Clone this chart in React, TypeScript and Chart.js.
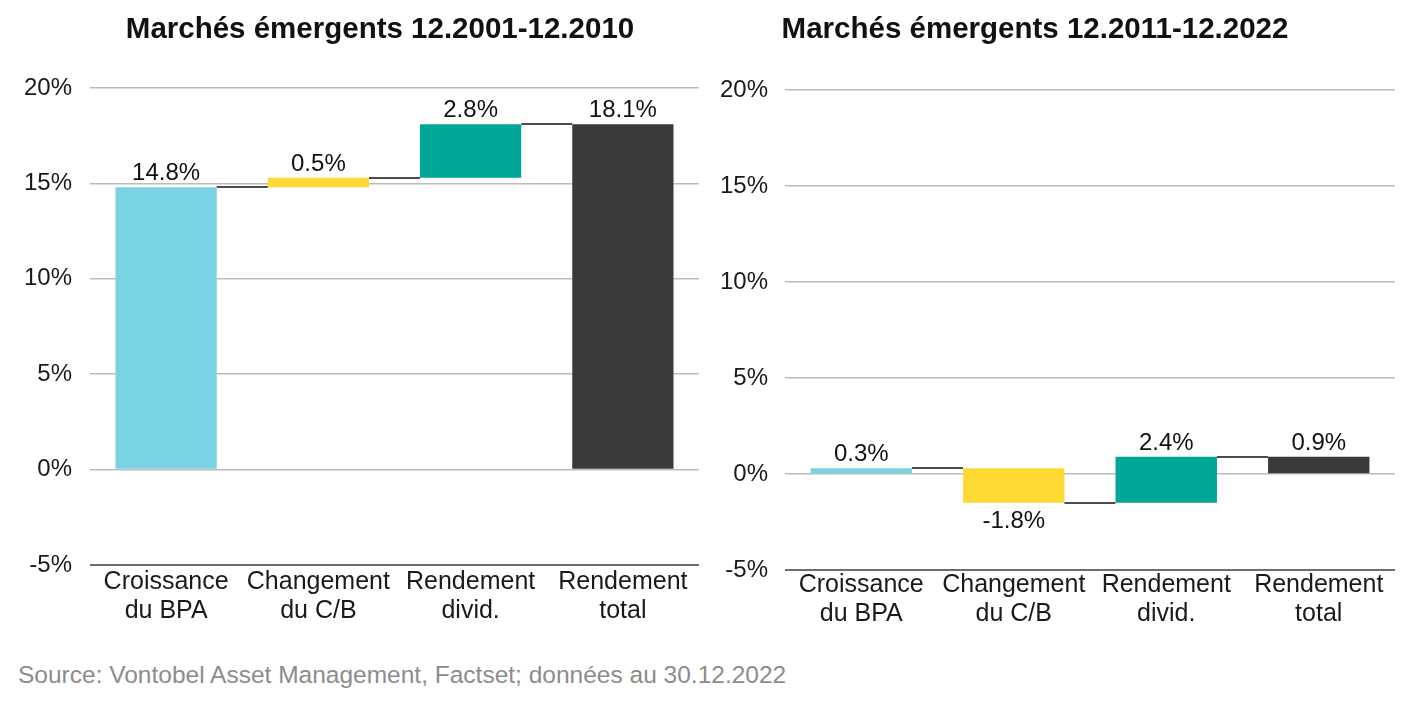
import React, { useEffect, useRef } from "react";
import { Chart, registerables } from "chart.js";

Chart.register(...registerables);

const categories: string[][] = [
  ["Croissance", "du BPA"],
  ["Changement", "du C/B"],
  ["Rendement", "divid."],
  ["Rendement", "total"],
];
const titleLeft = "Marchés émergents 12.2001-12.2010";
const titleRight = "Marchés émergents 12.2011-12.2022";
const valuesLeft = [14.8, 0.5, 2.8, 18.1];
const valuesRight = [0.3, -1.8, 2.4, 0.9];
const barColors = ["#7AD3E3", "#FCDA32", "#00A697", "#3A3A3B"];
const yMin = -5;
const yMax = 20;
const yStep = 5;
const sourceText = "Source: Vontobel Asset Management, Factset; données au 30.12.2022";

const FONT = "'Liberation Sans', Arial, Helvetica, sans-serif";

function floatingBars(values: number[]): number[][] {
  let cum = 0;
  return values.map((v, i) => {
    if (i === values.length - 1) return [0, v];
    const s = cum;
    cum += v;
    return [s, cum];
  });
}

type PanelProps = {
  values: number[];
  left: number;
  width: number;
  height: number;
  yWidth: number;
  tickPad: number;
  xPad: number;
  padTop: number;
  padRight: number;
  xHeight: number;
};

function Panel(p: PanelProps) {
  const ref = useRef<HTMLCanvasElement | null>(null);
  useEffect(() => {
    if (!ref.current) return;
    const bars = floatingBars(p.values);
    const waterfallPlugin = {
      id: "waterfallExtras",
      afterDatasetsDraw(chart: any) {
        const ctx = chart.ctx;
        const meta = chart.getDatasetMeta(0);
        const ys = chart.scales.y;
        ctx.save();
        ctx.strokeStyle = "#4d4d4d";
        ctx.lineWidth = 2;
        for (let i = 0; i < bars.length - 1; i++) {
          const a = meta.data[i];
          const b = meta.data[i + 1];
          const level = bars[i][1];
          const y = Math.round(ys.getPixelForValue(level));
          ctx.beginPath();
          ctx.moveTo(a.x + a.width / 2, y);
          ctx.lineTo(b.x - b.width / 2, y);
          ctx.stroke();
        }
        ctx.fillStyle = "#111111";
        ctx.font = `24px ${FONT}`;
        ctx.textAlign = "center";
        ctx.textBaseline = "alphabetic";
        for (let i = 0; i < bars.length; i++) {
          const el = meta.data[i];
          const v = p.values[i];
          const txt = v.toFixed(1) + "%";
          const [s, e] = bars[i];
          if (v >= 0) {
            const y = ys.getPixelForValue(Math.max(s, e));
            ctx.fillText(txt, el.x, y - 7);
          } else {
            const y = ys.getPixelForValue(Math.min(s, e));
            ctx.fillText(txt, el.x, y + 25);
          }
        }
        ctx.restore();
      },
    };
    const chart = new Chart(ref.current, {
      type: "bar",
      data: {
        labels: categories,
        datasets: [
          {
            data: bars as any,
            backgroundColor: barColors,
            borderWidth: 0,
            barPercentage: 0.665,
            categoryPercentage: 1,
          },
        ],
      },
      options: {
        animation: false,
        responsive: false,
        maintainAspectRatio: false,
        events: [],
        layout: { padding: { top: p.padTop, right: p.padRight, left: 0, bottom: 0 } },
        plugins: {
          legend: { display: false },
          title: { display: false },
          tooltip: { enabled: false },
        },
        scales: {
          x: {
            grid: { display: false, drawTicks: false },
            border: { display: false },
            ticks: {
              color: "#1a1a1a",
              font: { family: FONT, size: 25, lineHeight: 1.16 },
              padding: p.xPad,
              maxRotation: 0,
              autoSkip: false,
            },
            afterFit(scale: any) {
              scale.height = p.xHeight;
            },
          },
          y: {
            min: yMin,
            max: yMax,
            grid: {
              drawTicks: false,
              color: (c: any) => (c.tick && c.tick.value === yMin ? "#6e6e6e" : "#bdbdbd"),
              lineWidth: (c: any) => (c.tick && c.tick.value === yMin ? 2 : 1.5),
            },
            border: { display: false },
            ticks: {
              stepSize: yStep,
              color: "#1a1a1a",
              font: { family: FONT, size: 24 },
              padding: p.tickPad,
              callback: (v: any) => `${v}%`,
            },
            afterFit(scale: any) {
              scale.width = p.yWidth;
            },
          },
        },
      },
      plugins: [waterfallPlugin],
    });
    return () => chart.destroy();
  }, []);
  return (
    <canvas
      ref={ref}
      width={p.width}
      height={p.height}
      style={{ position: "absolute", left: p.left, top: 0, width: p.width, height: p.height }}
    />
  );
}

export default function App() {
  const titleStyle: React.CSSProperties = {
    position: "absolute",
    top: 11,
    fontFamily: FONT,
    fontWeight: "bold",
    fontSize: 29.5,
    color: "#111",
    whiteSpace: "nowrap",
    transform: "translateX(-50%)",
    lineHeight: "34px",
  };
  return (
    <div
      style={{
        position: "fixed",
        left: 0,
        top: 0,
        width: 1418,
        height: 704,
        background: "#ffffff",
        overflow: "hidden",
      }}
    >
      <Panel values={valuesLeft} left={0} width={705} height={640} yWidth={90} tickPad={18} xPad={3} padTop={88} padRight={6} xHeight={75} />
      <Panel values={valuesRight} left={705} width={713} height={640} yWidth={80} tickPad={17} xPad={1} padTop={90} padRight={23} xHeight={70} />
      <div style={{ ...titleStyle, left: 380 }}>{titleLeft}</div>
      <div style={{ ...titleStyle, left: 1035 }}>{titleRight}</div>
      <div
        style={{
          position: "absolute",
          left: 18,
          top: 660,
          fontFamily: FONT,
          fontSize: 24.5,
          color: "#8c8c8c",
          whiteSpace: "nowrap",
          lineHeight: "30px",
        }}
      >
        {sourceText}
      </div>
    </div>
  );
}
